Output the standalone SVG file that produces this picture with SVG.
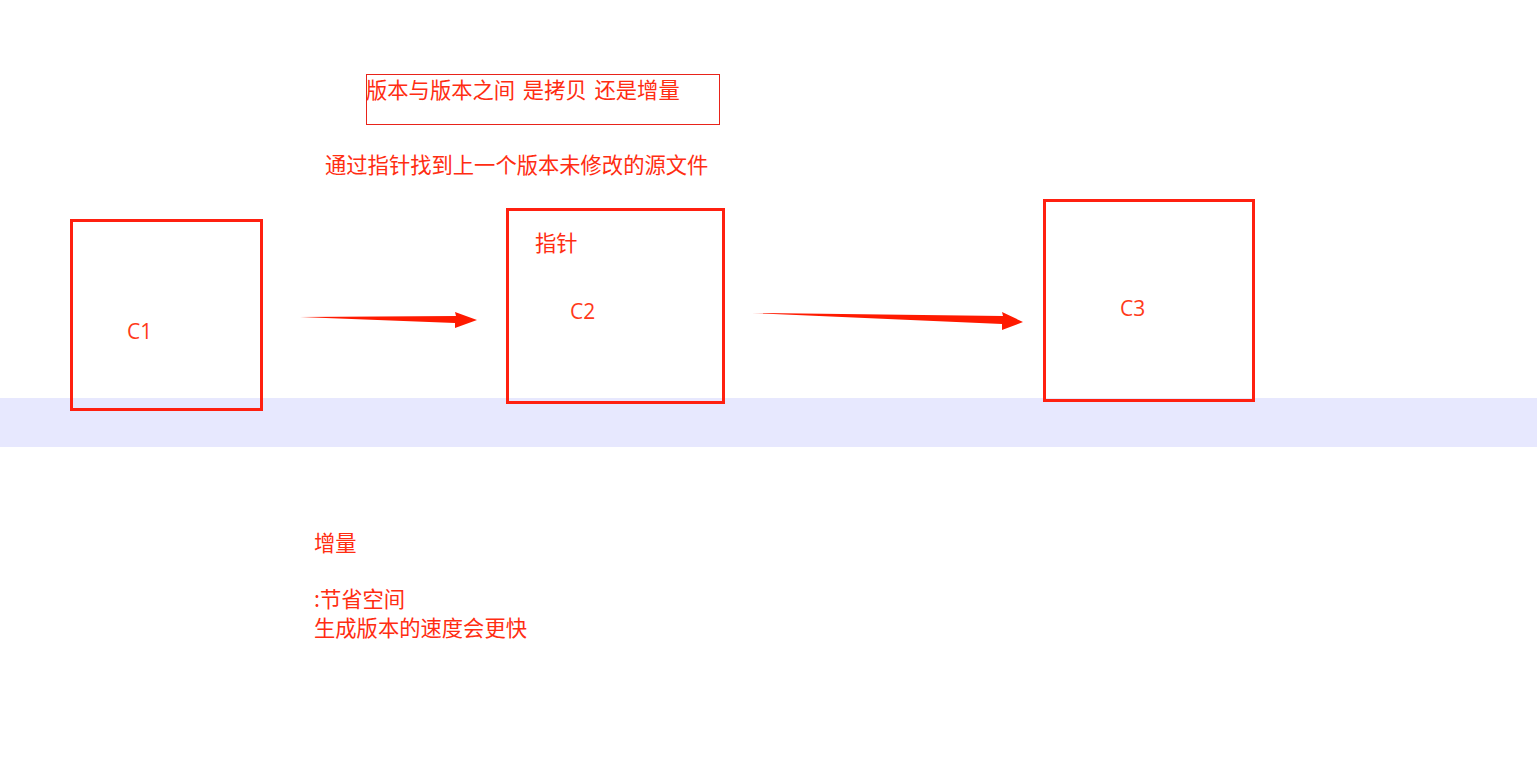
<svg xmlns="http://www.w3.org/2000/svg" width="1537" height="777" viewBox="0 0 1537 777">
<style>
.t{font-family:"Noto Sans CJK SC","Liberation Sans",sans-serif;font-size:21.3px;fill:#ff2d12}
.l{font-family:"Open Sans","Liberation Sans",sans-serif;font-size:21px;fill:#ff3a1a}
.box{fill:none;stroke:#ff2010;stroke-width:3}
.arr{fill:#ff1a00}
</style>
<rect x="0" y="398" width="1537" height="49" fill="#e7e8fe"/>
<g id="title">
<rect x="366.5" y="74.5" width="353" height="50" fill="none" stroke="#e8231a" stroke-width="1"/>
<text class="t" x="366" y="98" word-spacing="3">版本与版本之间 是拷贝 还是增量</text>
</g>
<g id="note1"><text class="t" x="325" y="173">通过指针找到上一个版本未修改的源文件</text></g>
<g id="c1"><rect class="box" x="71.5" y="220.5" width="190" height="189"/><text class="l" x="127" y="339">C1</text></g>
<g id="c2"><rect class="box" x="507.5" y="209.5" width="216" height="193"/><text class="t" x="535" y="251">指针</text><text class="l" x="570" y="319">C2</text></g>
<g id="c3"><rect class="box" x="1044.5" y="200.5" width="209" height="200"/><text class="l" x="1120" y="316">C3</text></g>
<g id="connectors">
<polygon class="arr" points="300,317 456,316 455,312 477,320 455,328 455,323"/>
<polygon class="arr" points="752,313 1003,316 1002,312 1023,322 1002,330 1002,324"/>
</g>
<g id="note2">
<text class="t" x="314" y="551">增量</text>
<text class="t" x="314" y="607">:节省空间</text>
<text class="t" x="314" y="636">生成版本的速度会更快</text>
</g>
</svg>
